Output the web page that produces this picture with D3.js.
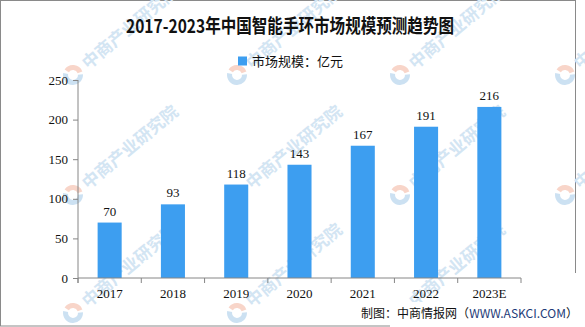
<!DOCTYPE html>
<html>
<head>
<meta charset="utf-8">
<script src="https://cdn.jsdelivr.net/npm/d3@7"></script>
<style>
  html, body { margin: 0; padding: 0; background: #fff; }
  svg { display: block; }
</style>
</head>
<body>
<div id="chart"></div>
<script>
// 2017-2023 China smart band market size (100 million yuan)
const years = ["2017", "2018", "2019", "2020", "2021", "2022", "2023E"];
const marketSize = [70, 93, 118, 143, 167, 191, 216];
const yTicks = [0, 50, 100, 150, 200, 250];
const titleText = "2017-2023年中国智能手环市场规模预测趋势图";
const legendText = "市场规模：亿元";
const watermarkText = "中商产业研究院";

const W = 585, H = 327;
const svg = d3.select("#chart").append("svg").attr("width", W).attr("height", H);

// outer frame
svg.append("rect").attr("x", 0.5).attr("y", 0.5).attr("width", 575).attr("height", 325.5)
  .attr("fill", "#fff").attr("stroke", "#8a8a8a").attr("stroke-width", 1);

// faint repeated watermark
const wm = svg.append("g").attr("class", "watermark");
const wmX = [73, 237, 400, 565];
const wmY = [75, 195, 313];
wmY.forEach(y => wmX.forEach(x => {
  const g = wm.append("g").attr("transform", `translate(${x},${y}) rotate(-40)`);
  const arc = d3.arc().innerRadius(5).outerRadius(10);
  g.append("path").attr("d", arc({startAngle: -0.3, endAngle: 1.9}))
    .attr("fill", "#f6cbbb").attr("opacity", 0.8);
  g.append("path").attr("d", arc({startAngle: 2.2, endAngle: 5.6}))
    .attr("fill", "#c3dcf0").attr("opacity", 0.85);
  g.append("text").attr("x", 15).attr("y", 6)
    .attr("font-family", "Noto Sans CJK SC").attr("font-weight", "bold")
    .attr("font-size", 17).attr("fill", "#d3e5f3")
    .text(watermarkText);
}));

// scales
const x = d3.scaleBand().domain(years).range([78, 521]).paddingInner(0.62).paddingOuter(0.31);
const y = d3.scaleLinear().domain([0, 250]).range([278, 80]);

// title
svg.append("text").attr("x", 290).attr("y", 33).attr("text-anchor", "middle")
  .attr("font-family", "Noto Sans CJK SC").attr("font-weight", "bold").attr("font-size", 19)
  .attr("fill", "#111").attr("textLength", 328).attr("lengthAdjust", "spacingAndGlyphs")
  .text(titleText);

// legend
svg.append("rect").attr("x", 238).attr("y", 56.5).attr("width", 9).attr("height", 9).attr("fill", "#3d9ef0");
svg.append("text").attr("x", 252).attr("y", 65.5)
  .attr("font-family", "Noto Sans CJK SC").attr("font-size", 13).attr("fill", "#111")
  .text(legendText);

// bars
svg.append("g").selectAll("rect").data(marketSize).join("rect")
  .attr("x", (d, i) => x(years[i]))
  .attr("y", d => y(d))
  .attr("width", x.bandwidth())
  .attr("height", d => y(0) - y(d))
  .attr("fill", "#3d9ef0");

// value labels
svg.append("g").selectAll("text").data(marketSize).join("text")
  .attr("x", (d, i) => x(years[i]) + x.bandwidth() / 2)
  .attr("y", d => y(d) - 7)
  .attr("text-anchor", "middle")
  .attr("font-family", "Liberation Serif").attr("font-size", 13).attr("fill", "#111")
  .text(d => d);

// y axis
const yAxis = svg.append("g").attr("transform", "translate(78,0)")
  .call(d3.axisLeft(y).tickValues(yTicks).tickSize(5).tickPadding(5));
yAxis.select(".domain").attr("d", "M0,80V283");

// x axis with ticks at category boundaries
const xAxis = svg.append("g").attr("transform", "translate(0,278)");
xAxis.append("line").attr("x1", 78).attr("x2", 521).attr("y1", 0).attr("y2", 0);
const edges = d3.range(years.length + 1).map(i => x.range()[0] + i * x.step());
xAxis.selectAll("line.tick").data(edges).join("line").attr("class", "tick")
  .attr("x1", d => d).attr("x2", d => d).attr("y1", 0).attr("y2", 5);
xAxis.selectAll("text").data(years).join("text")
  .attr("x", d => x(d) + x.bandwidth() / 2).attr("y", 20)
  .attr("text-anchor", "middle")
  .attr("font-family", "Liberation Serif").attr("font-size", 13).attr("fill", "#111")
  .text(d => d);
xAxis.selectAll("line").attr("stroke", "#868686");

yAxis.selectAll(".domain, .tick line").attr("stroke", "#868686");
yAxis.selectAll(".tick text").attr("font-family", "Liberation Serif").attr("font-size", 13).attr("fill", "#111");

// source note
svg.append("rect").attr("x", 528).attr("y", 273).attr("width", 57).attr("height", 54).attr("fill", "#fff");
svg.append("rect").attr("x", 390).attr("y", 302).attr("width", 195).attr("height", 25).attr("fill", "#fff");
const src = svg.append("text").attr("x", 578).attr("y", 318).attr("text-anchor", "end")
  .attr("font-family", "Noto Sans CJK SC").attr("font-size", 12).attr("fill", "#111");
src.append("tspan").text("制图：中商情报网（");
src.append("tspan").attr("fill", "#1d3b78").text("WWW.ASKCI.COM");
src.append("tspan").text("）");
</script>
</body>
</html>
